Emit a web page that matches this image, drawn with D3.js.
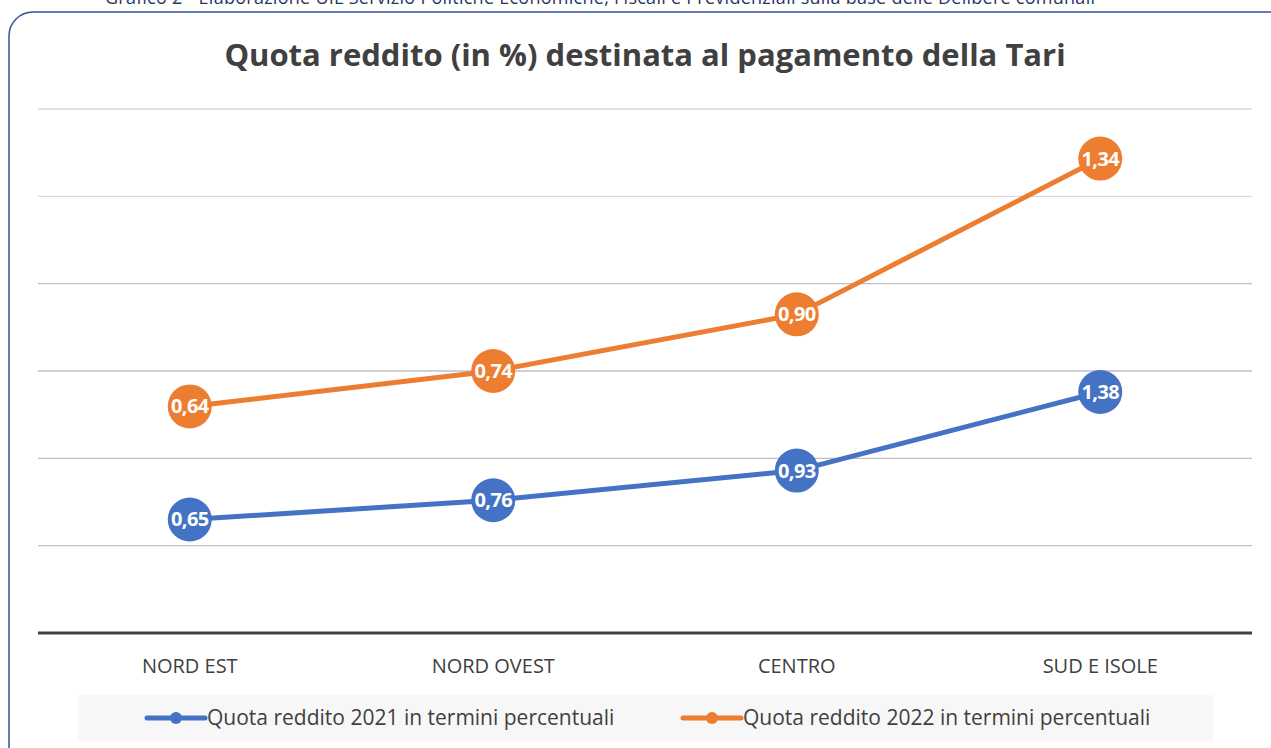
<!DOCTYPE html>
<html>
<head>
<meta charset="utf-8">
<script src="https://cdn.jsdelivr.net/npm/d3@7/dist/d3.min.js"></script>
<style>
  body { margin: 0; background: #fff; }
  svg { display: block; font-family: "Open Sans", "Noto Sans", sans-serif; }
</style>
</head>
<body>
<div id="vis"></div>
<script>
// data
const CATEGORIES = ["NORD EST", "NORD OVEST", "CENTRO", "SUD E ISOLE"];
const VALUES_2021 = [0.65, 0.76, 0.93, 1.38];
const VALUES_2022 = [0.64, 0.74, 0.90, 1.34];
const SERIES_NAMES = ["Quota reddito 2021 in termini percentuali", "Quota reddito 2022 in termini percentuali"];
const PRIMARY_TICKS = [0, 0.5, 1, 1.5, 2, 2.5, 3];
const SECONDARY_DOMAIN = [0, 1.48];

const COLORS = ["#4472c4", "#ed7d31"];

const FRAME_WIDTH = 1271;
const FRAME_HEIGHT = 748;
const PLOT = {left: 38, right: 1252, top: 109, bottom: 633};

const svg = d3.select("#vis").append("svg")
    .attr("width", FRAME_WIDTH)
    .attr("height", FRAME_HEIGHT);

// caption cut off at the top
svg.append("text")
    .attr("x", 105).attr("y", 4)
    .attr("font-size", 18)
    .attr("textLength", 990)
    .attr("fill", "#1f3864")
    .text("Grafico 2 - Elaborazione UIL Servizio Politiche Economiche, Fiscali e Previdenziali sulla base delle Delibere comunali");

// rounded frame
svg.append("rect")
    .attr("x", 9).attr("y", 12)
    .attr("width", 1290).attr("height", 780)
    .attr("rx", 24).attr("ry", 24)
    .attr("fill", "none")
    .attr("stroke", "#2f5597")
    .attr("stroke-width", 1.5);

// title
svg.append("text")
    .attr("x", 645).attr("y", 66)
    .attr("text-anchor", "middle")
    .attr("font-size", 31)
    .attr("font-weight", "bold")
    .attr("fill", "#404040")
    .text("Quota reddito (in %) destinata al pagamento della Tari");

// scales
const X_SCALE = d3.scaleBand()
    .domain(CATEGORIES)
    .range([PLOT.left, PLOT.right]);

const Y_SCALE = d3.scaleLinear()
    .domain([0, 3])
    .range([PLOT.bottom, PLOT.top]);

const Y2_SCALE = d3.scaleLinear()
    .domain(SECONDARY_DOMAIN)
    .range([PLOT.bottom, PLOT.top]);

// gridlines
svg.append("g")
    .selectAll("line")
    .data(PRIMARY_TICKS.slice(1))
    .enter()
    .append("line")
    .attr("x1", PLOT.left).attr("x2", PLOT.right)
    .attr("y1", (d) => Y_SCALE(d)).attr("y2", (d) => Y_SCALE(d))
    .attr("stroke", (d) => d >= 2.5 ? "#d9d9d9" : "#bfbfbf")
    .attr("stroke-width", 1.3);

// baseline
svg.append("line")
    .attr("x1", PLOT.left).attr("x2", PLOT.right)
    .attr("y1", Y_SCALE(0)).attr("y2", Y_SCALE(0))
    .attr("stroke", "#404040")
    .attr("stroke-width", 3);

// x axis labels
const xAxis = svg.append("g")
    .attr("transform", "translate(0," + (PLOT.bottom + 16) + ")")
    .call(d3.axisBottom(X_SCALE).tickSize(0).tickPadding(10));
xAxis.select(".domain").remove();
xAxis.selectAll("text")
    .attr("font-size", 20)
    .attr("fill", "#404040")
    .attr("font-family", "'Open Sans', sans-serif");

// series
const series = [
    {name: SERIES_NAMES[0], values: VALUES_2021, scale: Y_SCALE, color: COLORS[0]},
    {name: SERIES_NAMES[1], values: VALUES_2022, scale: Y2_SCALE, color: COLORS[1]}
];

series.forEach((s) => {
    const line = d3.line()
        .x((d, i) => X_SCALE(CATEGORIES[i]) + X_SCALE.bandwidth() / 2)
        .y((d) => s.scale(d));

    svg.append("path")
        .datum(s.values)
        .attr("d", line)
        .attr("fill", "none")
        .attr("stroke", s.color)
        .attr("stroke-width", 5)
        .attr("stroke-linejoin", "round");

    const g = svg.append("g");
    g.selectAll("circle")
        .data(s.values)
        .enter()
        .append("circle")
        .attr("cx", (d, i) => X_SCALE(CATEGORIES[i]) + X_SCALE.bandwidth() / 2)
        .attr("cy", (d) => s.scale(d))
        .attr("r", 22)
        .attr("fill", s.color);

    g.selectAll("text")
        .data(s.values)
        .enter()
        .append("text")
        .attr("x", (d, i) => X_SCALE(CATEGORIES[i]) + X_SCALE.bandwidth() / 2)
        .attr("y", (d) => s.scale(d))
        .attr("dy", "0.35em")
        .attr("text-anchor", "middle")
        .attr("font-size", 20)
        .attr("font-weight", "bold")
        .attr("fill", "#fff")
        .attr("letter-spacing", -0.6)
        .text((d) => d.toFixed(2).replace(".", ","));
});

// legend
svg.append("rect")
    .attr("x", 78).attr("y", 695)
    .attr("width", 1135).attr("height", 46)
    .attr("fill", "#f7f7f7");

const LEGEND_X = [147, 683];
series.forEach((s, i) => {
    const lx = LEGEND_X[i];
    const ly = 718;
    svg.append("line")
        .attr("x1", lx).attr("x2", lx + 58)
        .attr("y1", ly).attr("y2", ly)
        .attr("stroke", s.color)
        .attr("stroke-width", 5)
        .attr("stroke-linecap", "round");
    svg.append("circle")
        .attr("cx", lx + 29).attr("cy", ly)
        .attr("r", 6)
        .attr("fill", s.color);
    svg.append("text")
        .attr("x", lx + 60).attr("y", ly)
        .attr("dy", "0.35em")
        .attr("font-size", 21)
        .attr("fill", "#404040")
        .text(s.name);
});
</script>
</body>
</html>
